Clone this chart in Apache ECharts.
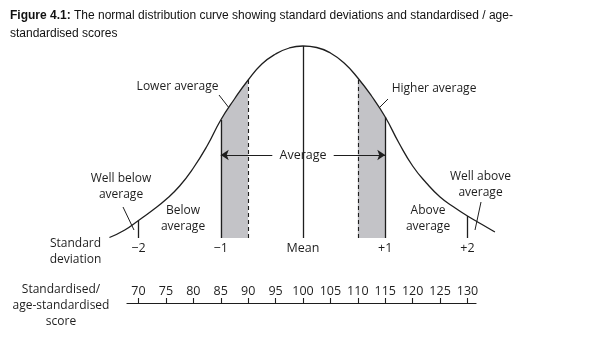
<!DOCTYPE html>
<html><head><meta charset="utf-8">
<script src="https://cdn.jsdelivr.net/npm/echarts@6/dist/echarts.min.js"></script>
<style>html,body{margin:0;padding:0;background:#fff}#c{width:602px;height:337px}</style>
</head><body><div id="c"></div>
<script>
// ---- data ----
const curveScores  = [64.7,67.5,70,72.5,75,77.5,80,82.5,85,87.5,90,92.5,95,97.5,100,102.5,105,107.5,110,112.5,115,117.5,120,122.5,125,127.5,130,132.5,135];
const curveHeights = [0.5,8,17.5,27.5,38.5,52,70,92,118,139,158,174,184,190,192,190.5,185,175,160,142,121,95,72,55,41,31,22,14,6];
const sdScores = [70,85,100,115,130];
const sdLabels = ['\u22122','\u22121','Mean','+1','+2'];
const scoreTicks = [70,75,80,85,90,95,100,105,110,115,120,125,130];
const dashedScores = [90,110];
const shadeRanges = [[85,90],[110,115]];

const INK = '#1e1e1e';
const FONT = '"Open Sans", sans-serif';
const pts = curveScores.map((s,i)=>[s,curveHeights[i]]);
const hAt = s => curveHeights[curveScores.indexOf(s)];

const shadeSeries = shadeRanges.map(r => ({
  type:'line', xAxisIndex:0, yAxisIndex:0, smooth:true, symbol:'none', silent:true,
  lineStyle:{width:0}, areaStyle:{color:'#c3c3c7', opacity:1},
  data: pts.filter(p => p[0] >= r[0] && p[0] <= r[1]), z:1
}));

const vLines = [];
sdScores.forEach(s => vLines.push([{coord:[s,0]},{coord:[s,hAt(s)], lineStyle:{type:'solid'}}]));
dashedScores.forEach(s => vLines.push([{coord:[s,0], lineStyle:{type:[4,3], width:1.1}},{coord:[s,hAt(s)]}]));

const arrowH = 83, gap = 5.6;
const arrows = [
  [{coord:[100-gap,arrowH]},{coord:[sdScores[1],arrowH]}],
  [{coord:[100+gap,arrowH]},{coord:[sdScores[3],arrowH]}]
];

const chart = echarts.init(document.getElementById('c'), null, {renderer:'canvas'});
const txt = (text,x,y,extra) => ({type:'text', silent:true, style:Object.assign({text, x, y, font:'12px '+FONT, fill:INK, align:'center', verticalAlign:'middle', lineHeight:16}, extra||{})});
const ln = (x1,y1,x2,y2) => ({type:'line', silent:true, shape:{x1,y1,x2,y2}, style:{stroke:INK, lineWidth:1}});

chart.setOption({
  animation:false,
  backgroundColor:'#fff',
  title:{
    text:'{b|Figure 4.1:} The normal distribution curve showing standard deviations and standardised / age-\nstandardised scores',
    left:10, top:7, padding:0,
    textStyle:{fontSize:12, fontWeight:'normal', fontFamily:'"Liberation Sans", Arial, sans-serif', color:'#111', lineHeight:18,
      rich:{b:{fontWeight:'bold', fontSize:12, fontFamily:'"Liberation Sans", Arial, sans-serif', color:'#111', lineHeight:18}}}
  },
  grid:[
    {left:83.67, right:79.67, top:38, bottom:99},
    {left:127, right:126, top:280, bottom:34}
  ],
  xAxis:[
    {type:'value', gridIndex:0, min:60, max:140, splitLine:{show:false}, axisLine:{show:false}, axisTick:{show:false},
     axisLabel:{customValues:sdScores, formatter:v => sdLabels[sdScores.indexOf(v)], margin:4, fontSize:12.5, fontFamily:FONT, color:INK}},
    {type:'value', gridIndex:1, min:67.9, max:131.55, splitLine:{show:false},
     axisLine:{show:true, lineStyle:{color:INK, width:1.2}},
     axisTick:{show:true, inside:true, length:5, customValues:scoreTicks, lineStyle:{color:INK, width:1.1}},
     axisLabel:{inside:true, customValues:scoreTicks, margin:5, fontSize:12.5, fontFamily:FONT, color:INK}}
  ],
  yAxis:[
    {type:'value', gridIndex:0, min:0, max:200, show:false},
    {type:'value', gridIndex:1, min:0, max:1, show:false}
  ],
  series:[
    ...shadeSeries,
    {type:'line', xAxisIndex:0, yAxisIndex:0, smooth:true, symbol:'none', silent:true, clip:false, z:3,
     lineStyle:{color:INK, width:1.3}, data:pts,
     markLine:{silent:true, symbol:'none', label:{show:false}, lineStyle:{color:INK, width:1.3, type:'solid'}, data:vLines}
    },
    {type:'line', xAxisIndex:0, yAxisIndex:0, data:[], silent:true,
     markLine:{silent:true, symbol:['none','arrow'], symbolSize:8, label:{show:false}, lineStyle:{color:INK, width:1.1, type:'solid'}, data:arrows}}
  ],
  graphic:[
    txt('Lower average',177.5,87),
    txt('Higher average',434,89),
    txt('Average',303,155,{font:'12.5px '+FONT}),
    txt('Well below\naverage',121,186.5),
    txt('Below\naverage',183,219),
    txt('Standard\ndeviation',75.5,251.5),
    txt('Well above\naverage',480.5,184.5),
    txt('Above\naverage',428,219),
    txt('Standardised/\nage-standardised\nscore',61,305.5),
    ln(219,95,233,113),
    ln(388,99,373,114),
    ln(123,207,134,230),
    ln(481,202,475,230)
  ]
});
</script></body></html>
